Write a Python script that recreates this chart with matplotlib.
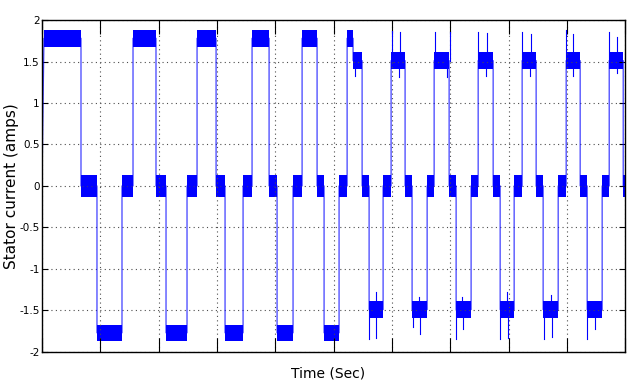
import matplotlib
matplotlib.use("Agg")
import matplotlib.pyplot as plt
import numpy as np

# segment boundaries (s) and the level held in each segment (amps)
edges = [0.0034, 0.0669, 0.0943, 0.1372, 0.1561, 0.1955, 0.2127, 0.2487, 0.2659,
         0.2985, 0.3139, 0.3448, 0.3602, 0.3894, 0.4031, 0.4305, 0.4460, 0.4717,
         0.4837, 0.5094, 0.5232, 0.5334, 0.5489, 0.5609, 0.5849, 0.5986, 0.6226,
         0.6346, 0.6604, 0.6724, 0.6981, 0.7101, 0.7358, 0.7479, 0.7736, 0.7856,
         0.8096, 0.8233, 0.8473, 0.8593, 0.8851, 0.8988, 0.9228, 0.9348, 0.9605,
         0.9726, 0.9966, 1.0]
levels = [1.78, 0.0, -1.77, 0.0, 1.78, 0.0, -1.77, 0.0, 1.78, 0.0, -1.77, 0.0,
          1.78, 0.0, -1.77, 0.0, 1.78, 0.0, -1.77, 0.0, 1.78, 1.51, 0.0, -1.49,
          0.0, 1.51, 0.0, -1.49, 0.0, 1.51, 0.0, -1.49, 0.0, 1.51, 0.0, -1.49,
          0.0, 1.51, 0.0, -1.49, 0.0, 1.51, 0.0, -1.49, 0.0, 1.51, 0.0]
# ripple half-height of each level
ripple = {0.0: 0.13, 1.78: 0.1, -1.77: 0.1, 1.51: 0.1, -1.49: 0.1}

# isolated spikes: time, base level, peak value
spike_t = [0.5368, 0.6003, 0.6140, 0.6123, 0.6741, 0.6998, 0.6947, 0.7479, 0.7633,
           0.7616, 0.8233, 0.8387, 0.8376, 0.8988, 0.9108, 0.9097, 0.9726, 0.9863, 0.9863,
           0.5609, 0.5729, 0.5729, 0.6363, 0.6483, 0.6466, 0.7101, 0.7221, 0.7204,
           0.7856, 0.7993, 0.7976, 0.8610, 0.8747, 0.8730, 0.9348, 0.9485]
spike_base = [1.51] * 19 + [-1.49] * 17
spike_peak = [1.33, 1.87, 1.85, 1.31, 1.86, 1.86, 1.31, 1.86, 1.84, 1.32, 1.86, 1.83,
              1.33, 1.88, 1.83, 1.32, 1.86, 1.79, 1.36,
              -1.84, -1.83, -1.28, -1.70, -1.78, -1.34, -1.85, -1.73, -1.34,
              -1.85, -1.83, -1.28, -1.85, -1.82, -1.32, -1.85, -1.73]

ytick_vals = [-2, -1.5, -1, -0.5, 0, 0.5, 1, 1.5, 2]
ytick_text = ["-2", "-1.5", "-1", "-0.5", "0", "0.5", "1", "1.5", "2"]

blue = "#0000ff"
narrow = ["Liberation Sans Narrow", "DejaVu Sans Condensed", "DejaVu Sans"]

fig = plt.figure(figsize=(6.36, 3.85), dpi=100)
ax = fig.add_axes([0.066, 0.086, 0.917, 0.862])

# centre path with the switching transitions
xs, ys = [0.0], [0.0]
for i, lvl in enumerate(levels):
    xs += [edges[i], edges[i + 1]]
    ys += [lvl, lvl]
ax.plot(xs, ys, color=blue, lw=0.9, alpha=0.75)

# ripple bands
for i, lvl in enumerate(levels):
    hw = ripple[lvl]
    ax.fill_between([edges[i], edges[i + 1]], lvl - hw, lvl + hw, color=blue, lw=0)

for t, b, p in zip(spike_t, spike_base, spike_peak):
    ax.plot([t, t], [b, p], color=blue, lw=0.8)

ax.set_xlim(0, 1)
ax.set_ylim(-2, 2)
ax.set_xticks(np.arange(0, 1.01, 0.1))
ax.set_yticks(ytick_vals)
ax.set_xticklabels([])
ax.set_yticklabels(ytick_text, family=narrow, fontsize=7.5)
ax.tick_params(axis="x", direction="in", length=10, top=True, width=0.8)
ax.tick_params(axis="y", direction="in", length=4, right=True, width=0.8, pad=1.5)
ax.grid(True, color="0.3", linestyle=(0, (1, 3)), lw=0.8)
for s in ax.spines.values():
    s.set_linewidth(1.0)

ax.set_ylabel("Stator current (amps)", fontsize=11)
ax.yaxis.set_label_coords(-0.039, 0.5)
ax.set_xlabel("Time (Sec)", family=narrow, fontsize=10)
ax.xaxis.set_label_coords(0.49, -0.045)

fig.savefig("out.png", dpi=100, facecolor="white")
